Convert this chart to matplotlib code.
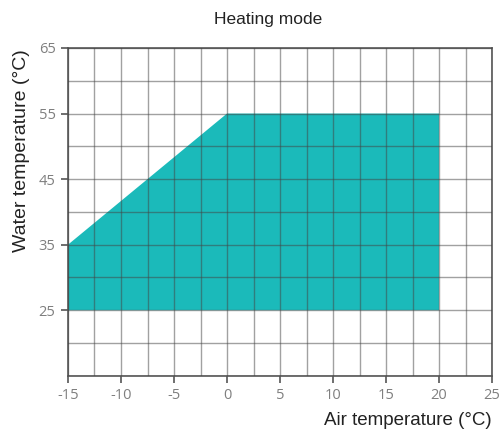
import matplotlib
matplotlib.use("Agg")
from matplotlib import pyplot as plt
from matplotlib.ticker import MultipleLocator

plt.rcParams["axes.unicode_minus"] = False

# operating envelope (air temp, water temp)
air_temp = [-15, -15, 0, 20, 20]
water_temp = [25, 35, 55, 55, 25]

x_ticks = [-15, -10, -5, 0, 5, 10, 15, 20, 25]
y_ticks = [25, 35, 45, 55, 65]

fig = plt.figure(figsize=(5, 4.36), dpi=100)
ax = fig.add_axes([0.136, 0.138, 0.848, 0.752])

ax.fill(air_temp, water_temp, color="#1bbaba", zorder=1, lw=0)

ax.set_xlim(-15, 25)
ax.set_ylim(15, 65)
ax.set_xticks(x_ticks)
ax.set_yticks(y_ticks)
ax.xaxis.set_minor_locator(MultipleLocator(2.5))
ax.yaxis.set_minor_locator(MultipleLocator(5))
ax.grid(which="both", color="#444444", alpha=0.5, lw=1.0, zorder=2)
ax.set_axisbelow(False)
ax.tick_params(which="minor", length=0)
ax.tick_params(which="major", length=5, width=1.2, color="#555555",
               labelsize=10.5, labelcolor="#7f7f7f", pad=4)
for lab in ax.get_xticklabels() + ax.get_yticklabels():
    lab.set_family("Open Sans")
for s in ax.spines.values():
    s.set_color("#555555")
    s.set_linewidth(1.2)

fig.text(0.536, 0.955, "Heating mode", ha="center", va="center",
         fontsize=12.5, family="Liberation Sans", color="#222222")
fig.text(0.044, 0.655, "Water temperature (°C)", ha="center", va="center",
         rotation=90, fontsize=14, family="Liberation Sans", color="#222222")
fig.text(0.984, 0.035, "Air temperature (°C)", ha="right", va="center",
         fontsize=13.5, family="Liberation Sans", color="#222222")

fig.savefig("out.png")
